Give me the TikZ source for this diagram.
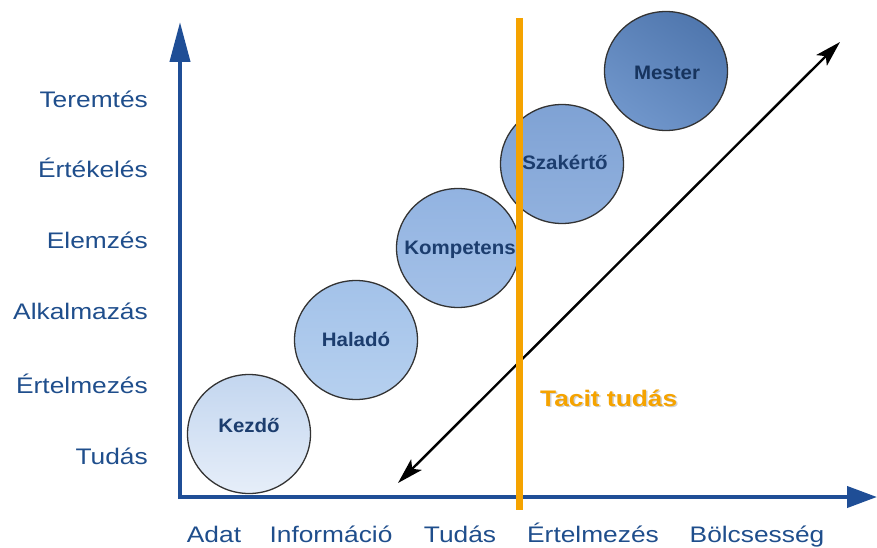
\documentclass[tikz,border=0pt]{standalone}
\usepackage{fontspec}
\setmainfont{Liberation Sans}[FakeStretch=1.17]
\newfontfamily\stagefont{Liberation Sans}[FakeStretch=1.05]
\usetikzlibrary{arrows.meta,shapes.geometric}
\definecolor{axisblue}{HTML}{1F4E96}
\definecolor{lblblue}{HTML}{1F4E8C}
\definecolor{stagetext}{HTML}{1C3D6E}
\definecolor{stagedark}{HTML}{17345E}
\definecolor{tacit}{HTML}{F5A300}
\definecolor{cA1}{HTML}{C3D6EF}\definecolor{cA2}{HTML}{E6EEF9}
\definecolor{cB1}{HTML}{A3C2E9}\definecolor{cB2}{HTML}{B6D0EF}
\definecolor{cC1}{HTML}{92B3E1}\definecolor{cC2}{HTML}{A4C1E8}
\definecolor{cD1}{HTML}{7FA2D4}\definecolor{cD2}{HTML}{91B1DE}
\definecolor{cE1}{HTML}{5077AE}\definecolor{cE2}{HTML}{7096CB}
\begin{document}
\begin{tikzpicture}[x=1pt,y=-1pt,
  lvl/.style={font=\fontsize{22.5}{26}\selectfont, text=lblblue, inner sep=0pt},
  stage/.style={ellipse, draw=black!80, line width=1.3pt, minimum width=123pt, minimum height=119pt,
    inner sep=0pt},
  stagelbl/.style={font=\stagefont\bfseries\fontsize{19.5}{22}\selectfont, text=stagetext,
    inner sep=0pt, anchor=base},
  axisline/.style={line width=4pt, draw=axisblue},
  tacitlabel/.style={font=\bfseries\fontsize{22.5}{26}\selectfont, inner sep=0pt, anchor=base west}]
\useasboundingbox (0,0) rectangle (877,548);

% left labels
\node[lvl, anchor=base east] (l1) at (148,108) {Teremtés};
\node[lvl, anchor=base east] (l2) at (148,178) {Értékelés};
\node[lvl, anchor=base east] (l3) at (148,248) {Elemzés};
\node[lvl, anchor=base east] (l4) at (148,319) {Alkalmazás};
\node[lvl, anchor=base east] (l5) at (148,393) {Értelmezés};
\node[lvl, anchor=base east] (l6) at (148,464) {Tudás};

% bottom labels
\node[lvl, anchor=base] (b1) at (214,542) {Adat};
\node[lvl, anchor=base] (b2) at (331,542) {Információ};
\node[lvl, anchor=base] (b3) at (460,542) {Tudás};
\node[lvl, anchor=base] (b4) at (593,542) {Értelmezés};
\node[lvl, anchor=base] (b5) at (757,542) {Bölcsesség};

% axes
\coordinate (ybot) at (180,499);
\coordinate (ytip) at (180,22);
\coordinate (xleft) at (178,497);
\coordinate (xtip) at (877,497);
\draw[axisline, -{Triangle[length=40pt,width=20pt]}] (ybot) -- (ytip);
\draw[axisline, -{Triangle[length=30pt,width=21pt]}] (xleft) -- (xtip);

% stages
\node[stage, top color=cA1, bottom color=cA2] (s1) at (249,434) {};
\node[stage, top color=cB1, bottom color=cB2] (s2) at (356,340) {};
\node[stage, top color=cC1, bottom color=cC2] (s3) at (458,248) {};
\node[stage, top color=cD1, bottom color=cD2] (s4) at (562,164) {};
\node[stage, top color=cE1, bottom color=cE2, shading angle=-35] (s5) at (666,71) {};

\node[stagelbl] (t1) at (249,432) {Kezdő};
\node[stagelbl] (t2) at (356,346) {Haladó};
\node[stagelbl] (t3) at (460,254) {Kompetens};
\node[stagelbl] (t4) at (565,169) {Szakértő};
\node[stagelbl, text=stagedark] (t5) at (667,80) {Mester};

% double arrow
\coordinate (d1) at (398,483);
\coordinate (d2) at (840,42);
\draw[line width=2.4pt, {Stealth[length=26pt,width=15pt,inset=6pt]}-{Stealth[length=26pt,width=15pt,inset=6pt]}] (d1) -- (d2);

% orange line
\coordinate (o1) at (519,18);
\coordinate (o2) at (519,510);
\draw[tacit, line width=7pt] (o1) -- (o2);

% tacit label with soft shadow
\node[tacitlabel, text=black, opacity=0.18] (tshadow) at (541.5,407.5) {Tacit tudás};
\node[tacitlabel, text=tacit] (tacit) at (540,406) {Tacit tudás};
\end{tikzpicture}
\end{document}
